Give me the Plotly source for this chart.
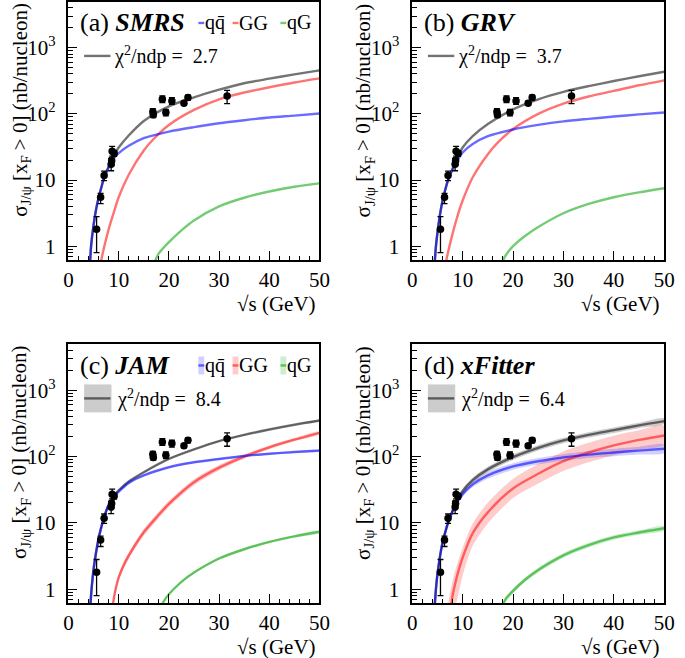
import plotly.graph_objects as go

# ---------------- data ----------------
sqrt_s = [5.6, 6.4, 7.1, 8.5, 8.6, 8.7, 9.1, 16.8, 16.9, 18.7, 19.4, 20.6, 23.0, 23.8, 31.6]
sigma = [1.8, 5.5, 11.7, 17.3, 19.5, 27.1, 25.3, 108, 97, 166, 105, 157, 145, 176, 186]
err_up = [1.0, 0.8, 1.9, 3.7, 2.3, 5.2, 2.5, 12, 9, 20, 12, 19, 10, 15, 41]
err_dn = [1.0, 1.1, 1.9, 3.5, 2.5, 4.1, 2.5, 12, 9, 18, 12, 18, 10, 15, 43]

# (a) SMRS
a_x = [4.3, 4.5, 5, 5.5, 6, 6.5, 7, 7.5, 8, 9, 10, 12, 15, 20, 25, 30, 35, 40, 45, 50]
a_qq = [0.56, 1.0, 2.1, 3.6, 5.4, 7.5, 10.2, 12.8, 15.5, 21, 25.5, 33, 43, 54, 63, 72, 80, 88, 94, 101]
a_tot = [0.56, 1.0, 2.1, 3.6, 5.4, 7.5, 10.3, 13.0, 16, 23.5, 31, 47, 78, 130, 178, 232, 290, 340, 395, 454]
a_gg_x = [6.5, 7, 8, 9, 10, 12, 15, 17, 20, 25, 30, 35, 40, 45, 50]
a_gg = [0.6, 0.9, 1.8, 3.2, 5.5, 12, 28, 42, 68, 115, 166, 210, 252, 298, 344]
a_qg_x = [17.0, 17.5, 18, 20, 22.5, 25, 30, 35, 40, 45, 50]
a_qg = [0.55, 0.66, 0.78, 1.15, 1.74, 2.45, 4.0, 5.4, 6.7, 7.9, 8.9]

# (b) GRV
b_x = [4.45, 4.7, 5, 5.5, 6, 6.5, 7, 7.5, 8, 9, 10, 12, 15, 20, 25, 30, 35, 40, 45, 50]
b_qq = [0.56, 1.0, 1.6, 3.0, 4.8, 6.9, 9.4, 11.8, 14.5, 20, 26, 35, 46, 58, 68, 77, 84, 91, 98, 105]
b_tot = [0.56, 1.0, 1.6, 3.0, 4.8, 6.9, 9.5, 12.0, 15, 22, 31, 46, 70, 117, 166, 215, 262, 313, 370, 433]
b_gg_x = [6.7, 7, 8, 9, 10, 12, 15, 17, 20, 25, 30, 35, 40, 45, 50]
b_gg = [0.58, 0.75, 1.55, 2.9, 4.9, 11, 24.6, 37, 59, 100, 143, 183, 222, 270, 321]
b_qg_x = [18, 18.5, 20, 22.5, 25, 30, 35, 40, 45, 50]
b_qg = [0.6, 0.72, 1.0, 1.45, 1.95, 3.15, 4.35, 5.5, 6.5, 7.5]

# (c) JAM  (central values and band edges)
c_x = [4.35, 4.6, 5, 5.5, 6, 6.5, 7, 7.5, 8, 9, 10, 12, 15, 20, 25, 30, 35, 40, 45, 50]
c_qq = [0.56, 1.0, 2.0, 3.6, 5.8, 8.4, 11.5, 15.0, 18.5, 24.5, 29.5, 40, 52, 69, 82, 92, 102, 110, 117, 123]
c_qq_hi = [0.58, 1.03, 2.06, 3.7, 5.97, 8.65, 11.85, 15.45, 19.05, 25.2, 30.4, 41.2, 53.6, 71, 84.5, 94.8, 105, 113.3, 120.5, 126.7]
c_qq_lo = [0.54, 0.97, 1.94, 3.49, 5.63, 8.15, 11.15, 14.55, 17.95, 23.8, 28.6, 38.8, 50.4, 67, 79.5, 89.2, 99, 106.7, 113.5, 119.3]
c_tot = [0.56, 1.0, 2.0, 3.6, 5.8, 8.4, 11.5, 15.0, 18.6, 25.5, 31, 42, 58, 92, 128, 171, 212, 256, 302, 350]
c_tot_hi = [0.57, 1.02, 2.04, 3.67, 5.92, 8.57, 11.73, 15.3, 18.97, 26, 31.6, 42.8, 59.2, 93.8, 130.6, 174.4, 216.2, 261.1, 308, 357]
c_tot_lo = [0.55, 0.98, 1.96, 3.53, 5.68, 8.23, 11.27, 14.7, 18.23, 25, 30.4, 41.2, 56.8, 90.2, 125.4, 167.6, 207.8, 250.9, 296, 343]
c_gg_x = [8.8, 9.2, 10, 11, 12, 15, 17.5, 20, 25, 30, 35, 40, 45, 50]
c_gg = [0.55, 0.85, 1.5, 2.3, 3.2, 7.2, 12, 19.3, 41, 68, 100, 138, 180, 228]
c_gg_hi = [0.62, 0.95, 1.68, 2.58, 3.58, 8.06, 13.4, 21.5, 45.5, 74.5, 108, 147, 190, 240]
c_gg_lo = [0.49, 0.76, 1.34, 2.05, 2.86, 6.43, 10.7, 17.3, 36.9, 61.8, 92.6, 129, 170, 216]
c_qg_x = [18.6, 19, 20, 22.5, 25, 30, 35, 40, 45, 50]
c_qg = [0.58, 0.66, 0.84, 1.29, 1.78, 2.9, 4.0, 5.15, 6.25, 7.35]
c_qg_hi = [0.6, 0.69, 0.87, 1.34, 1.85, 3.02, 4.16, 5.36, 6.5, 7.64]
c_qg_lo = [0.56, 0.63, 0.81, 1.24, 1.71, 2.78, 3.84, 4.94, 6.0, 7.06]

# (d) xFitter
d_x = [4.45, 4.7, 5, 5.5, 6, 6.5, 7, 7.5, 8, 9, 10, 12, 15, 20, 25, 30, 35, 40, 45, 50]
d_qq = [0.56, 1.0, 1.7, 3.1, 5.0, 7.0, 9.5, 12.0, 15, 21, 27, 38, 52, 71, 85, 97, 107, 115, 123, 131]
d_qq_hi = [0.6, 1.08, 1.84, 3.35, 5.4, 7.56, 10.3, 13, 16.2, 22.7, 29.2, 42, 58.2, 79.5, 95.2, 108.6, 121, 131, 141, 152]
d_qq_lo = [0.52, 0.92, 1.56, 2.85, 4.6, 6.44, 8.7, 11, 13.8, 19.3, 24.8, 34.6, 46.3, 63.2, 75.6, 86.3, 95, 101, 107, 113]
d_tot = [0.56, 1.0, 1.7, 3.1, 5.0, 7.0, 9.5, 12.0, 15.3, 22, 30, 44, 64, 98, 135, 175, 212, 250, 295, 342]
d_tot_hi = [0.6, 1.08, 1.84, 3.35, 5.4, 7.56, 10.3, 13, 16.5, 24, 33, 48.4, 70.4, 108, 148, 192, 233, 275, 324, 376]
d_tot_lo = [0.52, 0.92, 1.56, 2.85, 4.6, 6.44, 8.7, 11, 14.1, 20, 27.3, 40, 58.2, 89, 123, 159, 193, 227, 268, 311]
d_gg_x = [7.7, 8, 8.5, 9, 10, 12, 15, 20, 25, 30, 35, 40, 45, 50]
d_gg = [0.55, 0.8, 1.2, 1.7, 3.0, 7.0, 14.4, 33, 55, 85, 115, 147, 178, 208]
d_gg_band_x = [7.0, 7.5, 8, 8.5, 9, 10, 12, 15, 20, 25, 30, 35, 40, 45, 50]
d_gg_hi = [0.55, 0.9, 1.35, 1.9, 2.5, 4.2, 9.8, 20.2, 46, 77, 119, 161, 206, 249, 291]
d_gg_lo = [0.12, 0.2, 0.35, 0.5, 0.75, 1.6, 4.5, 9.8, 23.6, 39.3, 60.7, 82, 105, 127, 149]
d_qg_x = [18, 18.5, 20, 22.5, 25, 30, 35, 40, 45, 50]
d_qg = [0.58, 0.7, 0.94, 1.41, 1.95, 3.24, 4.62, 6.03, 7.16, 8.3]
d_qg_hi = [0.63, 0.76, 1.02, 1.52, 2.11, 3.5, 4.99, 6.51, 7.73, 8.96]
d_qg_lo = [0.53, 0.64, 0.86, 1.3, 1.79, 2.98, 4.25, 5.55, 6.59, 7.64]

panel_labels = ["(a)", "(b)", "(c)", "(d)"]
panel_names = ["SMRS", "GRV", "JAM", "xFitter"]
chi2 = ["2.7", "3.7", "8.4", "6.4"]
x_ticks = [0, 10, 20, 30, 40, 50]
y_ticks = [1, 10, 100, 1000]
y_ticktext = ["1", "10", "10<sup>2</sup>", "10<sup>3</sup>"]

# ---------------- styling ----------------
W, H = 685, 658
FONT = "Liberation Serif"
C_TOT = "rgba(0,0,0,0.55)"
C_QQ = "rgba(0,0,255,0.58)"
C_GG = "rgba(255,0,0,0.55)"
C_QG = "rgba(0,160,0,0.55)"
B_TOT = "rgba(0,0,0,0.2)"
B_QQ = "rgba(0,0,255,0.18)"
B_GG = "rgba(255,0,0,0.2)"
B_QG = "rgba(0,170,0,0.2)"
LW = 2.4


def px(x):
    return x / W


def py(y):
    return 1 - y / H


# panel frames in pixels: (left, right, top, bottom)
frames = [(65, 322, 1, 259.5), (417, 675, 1, 259.5), (65, 322, 344, 603), (417, 675, 344, 603)]

fig = go.Figure()


def sfx(i):
    return "" if i == 0 else str(i + 1)


def line(i, x, y, color):
    fig.add_trace(go.Scatter(x=x, y=y, mode="lines", line=dict(color=color, width=LW, shape="spline", smoothing=0.8),
                             xaxis="x" + sfx(i), yaxis="y" + sfx(i), showlegend=False, hoverinfo="skip"))


def band(i, x, lo, hi, color):
    fig.add_trace(go.Scatter(x=list(x) + list(x)[::-1], y=list(hi) + list(lo)[::-1], mode="lines",
                             line=dict(width=0, shape="spline", smoothing=0.8), fill="toself", fillcolor=color,
                             xaxis="x" + sfx(i), yaxis="y" + sfx(i), showlegend=False, hoverinfo="skip"))


# (a)
line(0, a_qg_x, a_qg, C_QG)
line(0, a_gg_x, a_gg, C_GG)
line(0, a_x, a_tot, C_TOT)
line(0, a_x, a_qq, C_QQ)
# (b)
line(1, b_qg_x, b_qg, C_QG)
line(1, b_gg_x, b_gg, C_GG)
line(1, b_x, b_tot, C_TOT)
line(1, b_x, b_qq, C_QQ)
# (c)
band(2, c_qg_x, c_qg_lo, c_qg_hi, B_QG)
band(2, c_gg_x, c_gg_lo, c_gg_hi, B_GG)
band(2, c_x, c_tot_lo, c_tot_hi, B_TOT)
band(2, c_x, c_qq_lo, c_qq_hi, B_QQ)
line(2, c_qg_x, c_qg, C_QG)
line(2, c_gg_x, c_gg, C_GG)
line(2, c_x, c_tot, C_TOT)
line(2, c_x, c_qq, C_QQ)
# (d)
band(3, d_qg_x, d_qg_lo, d_qg_hi, B_QG)
band(3, d_gg_band_x, d_gg_lo, d_gg_hi, B_GG)
band(3, d_x, d_tot_lo, d_tot_hi, B_TOT)
band(3, d_x, d_qq_lo, d_qq_hi, B_QQ)
line(3, d_qg_x, d_qg, C_QG)
line(3, d_gg_x, d_gg, C_GG)
line(3, d_x, d_tot, C_TOT)
line(3, d_x, d_qq, C_QQ)

# data points in every panel
for i in range(4):
    fig.add_trace(go.Scatter(x=sqrt_s, y=sigma, mode="markers",
                             marker=dict(color="black", size=7.5),
                             error_y=dict(type="data", symmetric=False, array=err_up, arrayminus=err_dn,
                                          color="black", thickness=1.3, width=3),
                             xaxis="x" + sfx(i), yaxis="y" + sfx(i), showlegend=False, hoverinfo="skip"))

layout = dict(width=W, height=H, margin=dict(l=0, r=0, t=0, b=0), paper_bgcolor="white",
              plot_bgcolor="white", font=dict(family=FONT, color="black"))

minor_x = [v for v in range(0, 51, 2) if v % 10 != 0]
minor_y = [m * 10 ** e for e in range(-1, 4) for m in range(2, 10)]

for i, (l, r, t, b) in enumerate(frames):
    xa = "xaxis" + sfx(i)
    ya = "yaxis" + sfx(i)
    layout[xa] = dict(domain=[px(l), px(r)], range=[0, 50], anchor="y" + sfx(i),
                      showline=True, linecolor="black", linewidth=1.5, mirror=True,
                      ticks="inside", ticklen=9, tickwidth=1.2, tickcolor="black",
                      tickmode="array", tickvals=x_ticks, ticktext=[str(v) for v in x_ticks],
                      tickfont=dict(size=21, family=FONT, color="black"), ticklabelstandoff=0,
                      minor=dict(ticks="inside", ticklen=4.5, tickwidth=1.1, tickcolor="black",
                                 tickmode="array", tickvals=minor_x),
                      showgrid=False, zeroline=False)
    layout[ya] = dict(domain=[py(b), py(t)], type="log", range=[-0.21, 3.69], anchor="x" + sfx(i),
                      showline=True, linecolor="black", linewidth=1.5, mirror=True,
                      ticks="inside", ticklen=9, tickwidth=1.2, tickcolor="black",
                      tickmode="array", tickvals=y_ticks, ticktext=y_ticktext,
                      tickfont=dict(size=21, family=FONT, color="black"), ticklabelstandoff=7,
                      minor=dict(ticks="inside", ticklen=4.5, tickwidth=1.1, tickcolor="black",
                                 tickmode="array", tickvals=minor_y),
                      showgrid=False, zeroline=False)

fig.update_layout(**layout)

ann = []
shapes = []
ytitle = "σ<sub>J/ψ</sub> [x<sub>F</sub> > 0] (nb/nucleon)"
for i, (l, r, t, b) in enumerate(frames):
    # axis titles
    ann.append(dict(x=px(l - 49), y=py(t - 1), xref="paper", yref="paper", text=ytitle, textangle=-90,
                    showarrow=False, xanchor="center", yanchor="top", font=dict(size=21, family=FONT)))
    ann.append(dict(x=px(r - 2), y=py(b + 44), xref="paper", yref="paper", text="√s (GeV)",
                    showarrow=False, xanchor="right", yanchor="middle", font=dict(size=21, family=FONT)))
    # panel title
    ann.append(dict(x=px(l + 10), y=py(t + 21), xref="paper", yref="paper",
                    text=panel_labels[i] + " <b><i>" + panel_names[i] + "</i></b>",
                    showarrow=False, xanchor="left", yanchor="middle", font=dict(size=26, family=FONT)))
    # chi2 legend
    ly = t + 54
    if i >= 2:
        shapes.append(dict(type="rect", xref="paper", yref="paper", x0=px(l + 16), x1=px(l + 44),
                           y0=py(ly - 14), y1=py(ly + 14), fillcolor=B_TOT, line=dict(width=0)))
    shapes.append(dict(type="line", xref="paper", yref="paper", x0=px(l + 16), x1=px(l + 43),
                       y0=py(ly), y1=py(ly), line=dict(color=C_TOT, width=LW)))
    ann.append(dict(x=px(l + 45 if i < 2 else l + 48), y=py(ly), xref="paper", yref="paper",
                    text="χ<sup>2</sup>/ndp =  " + chi2[i],
                    showarrow=False, xanchor="left", yanchor="middle", font=dict(size=20, family=FONT)))

# component legends in (a) and (c)
comp = [("qq\u0304", C_QQ, B_QQ, 133),
        ("GG", C_GG, B_GG, 168),
        ("qG", C_QG, B_QG, 217)]
for i in (0, 2):
    l, r, t, b = frames[i]
    cy = t + 21
    for txt, lc, bc, off in comp:
        if i == 2:
            shapes.append(dict(type="rect", xref="paper", yref="paper", x0=px(l + off), x1=px(l + off + 6),
                               y0=py(cy - 9), y1=py(cy + 9), fillcolor=bc, line=dict(width=0)))
        shapes.append(dict(type="line", xref="paper", yref="paper", x0=px(l + off), x1=px(l + off + 6),
                           y0=py(cy), y1=py(cy), line=dict(color=lc, width=LW)))
        ann.append(dict(x=px(l + off + 5), y=py(cy), xref="paper", yref="paper", text=txt,
                        showarrow=False, xanchor="left", yanchor="middle", font=dict(size=20, family=FONT)))

fig.update_layout(annotations=ann, shapes=shapes)
fig.write_html("out.html", post_script="document.body.style.margin='0px';",
               config={"displayModeBar": False})
